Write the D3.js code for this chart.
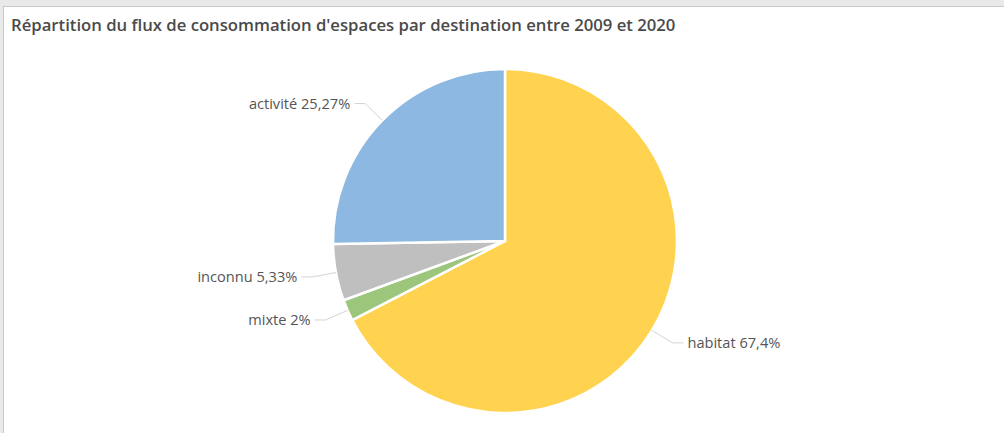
<!DOCTYPE html>
<html>
<head>
<meta charset="utf-8">
<script src="https://cdn.jsdelivr.net/npm/d3@7"></script>
<style>
  html, body { margin: 0; padding: 0; background: #e9e9e9; }
  body { width: 1004px; height: 433px; overflow: hidden; }
  svg { display: block; }
</style>
</head>
<body>
<svg id="chart" width="1004" height="433"></svg>
<script>
// Répartition du flux de consommation d'espaces par destination (2009–2020)
const categories = ["habitat", "mixte", "inconnu", "activité"];
const shares = [67.4, 2, 5.33, 25.27];
const shareLabels = ["67,4%", "2%", "5,33%", "25,27%"];
const colors = ["#ffd34f", "#9bc67b", "#bfbfbf", "#8cb8e1"];
const title = "Répartition du flux de consommation d'espaces par destination entre 2009 et 2020";

const svg = d3.select("#chart");
const W = 1004, H = 433;

// Panel
svg.append("rect").attr("x", 3.5).attr("y", 6.5).attr("width", W).attr("height", H)
  .attr("fill", "#ffffff").attr("stroke", "#c9c9c9").attr("stroke-width", 1);

svg.append("text")
  .attr("x", 11).attr("y", 31)
  .attr("font-family", "'Open Sans', 'Noto Sans', sans-serif")
  .attr("font-weight", 600)
  .attr("font-size", 16.7)
  .attr("fill", "#4a4a4a")
  .text(title);

const cx = 505, cy = 241, r = 172;
const data = categories.map((c, i) => ({ name: c, value: shares[i], label: shareLabels[i], color: colors[i] }));

const pie = d3.pie().sort(null).value(d => d.value);
const arcs = pie(data);
const arc = d3.arc().innerRadius(0).outerRadius(r);

const g = svg.append("g").attr("transform", `translate(${cx},${cy})`);

g.selectAll("path.slice").data(arcs).join("path")
  .attr("class", "slice")
  .attr("d", arc)
  .attr("fill", d => d.data.color)
  .attr("stroke", "#ffffff")
  .attr("stroke-width", 2.5)
  .attr("stroke-linejoin", "round");

// Leader lines and labels
const edge = d3.arc().innerRadius(r).outerRadius(r);
const elbow = d3.arc().innerRadius(r + 24).outerRadius(r + 24);

arcs.forEach(a => {
  const p0 = edge.centroid(a);
  const p1 = elbow.centroid(a);
  const mid = (a.startAngle + a.endAngle) / 2;
  const right = mid < Math.PI;
  const p2 = [p1[0] + (right ? 11 : -11), p1[1]];
  g.append("polyline")
    .attr("points", [p0, p1, p2].map(p => p.join(",")).join(" "))
    .attr("fill", "none")
    .attr("stroke", "#d4d4d4")
    .attr("stroke-width", 1);
  g.append("text")
    .attr("x", p2[0] + (right ? 4 : -4))
    .attr("y", p2[1])
    .attr("dy", "0.35em")
    .attr("text-anchor", right ? "start" : "end")
    .attr("font-family", "'Open Sans', 'Noto Sans', sans-serif")
    .attr("font-size", 14.6)
    .attr("fill", "#555555")
    .text(`${a.data.name} ${a.data.label}`);
});
</script>
</body>
</html>
